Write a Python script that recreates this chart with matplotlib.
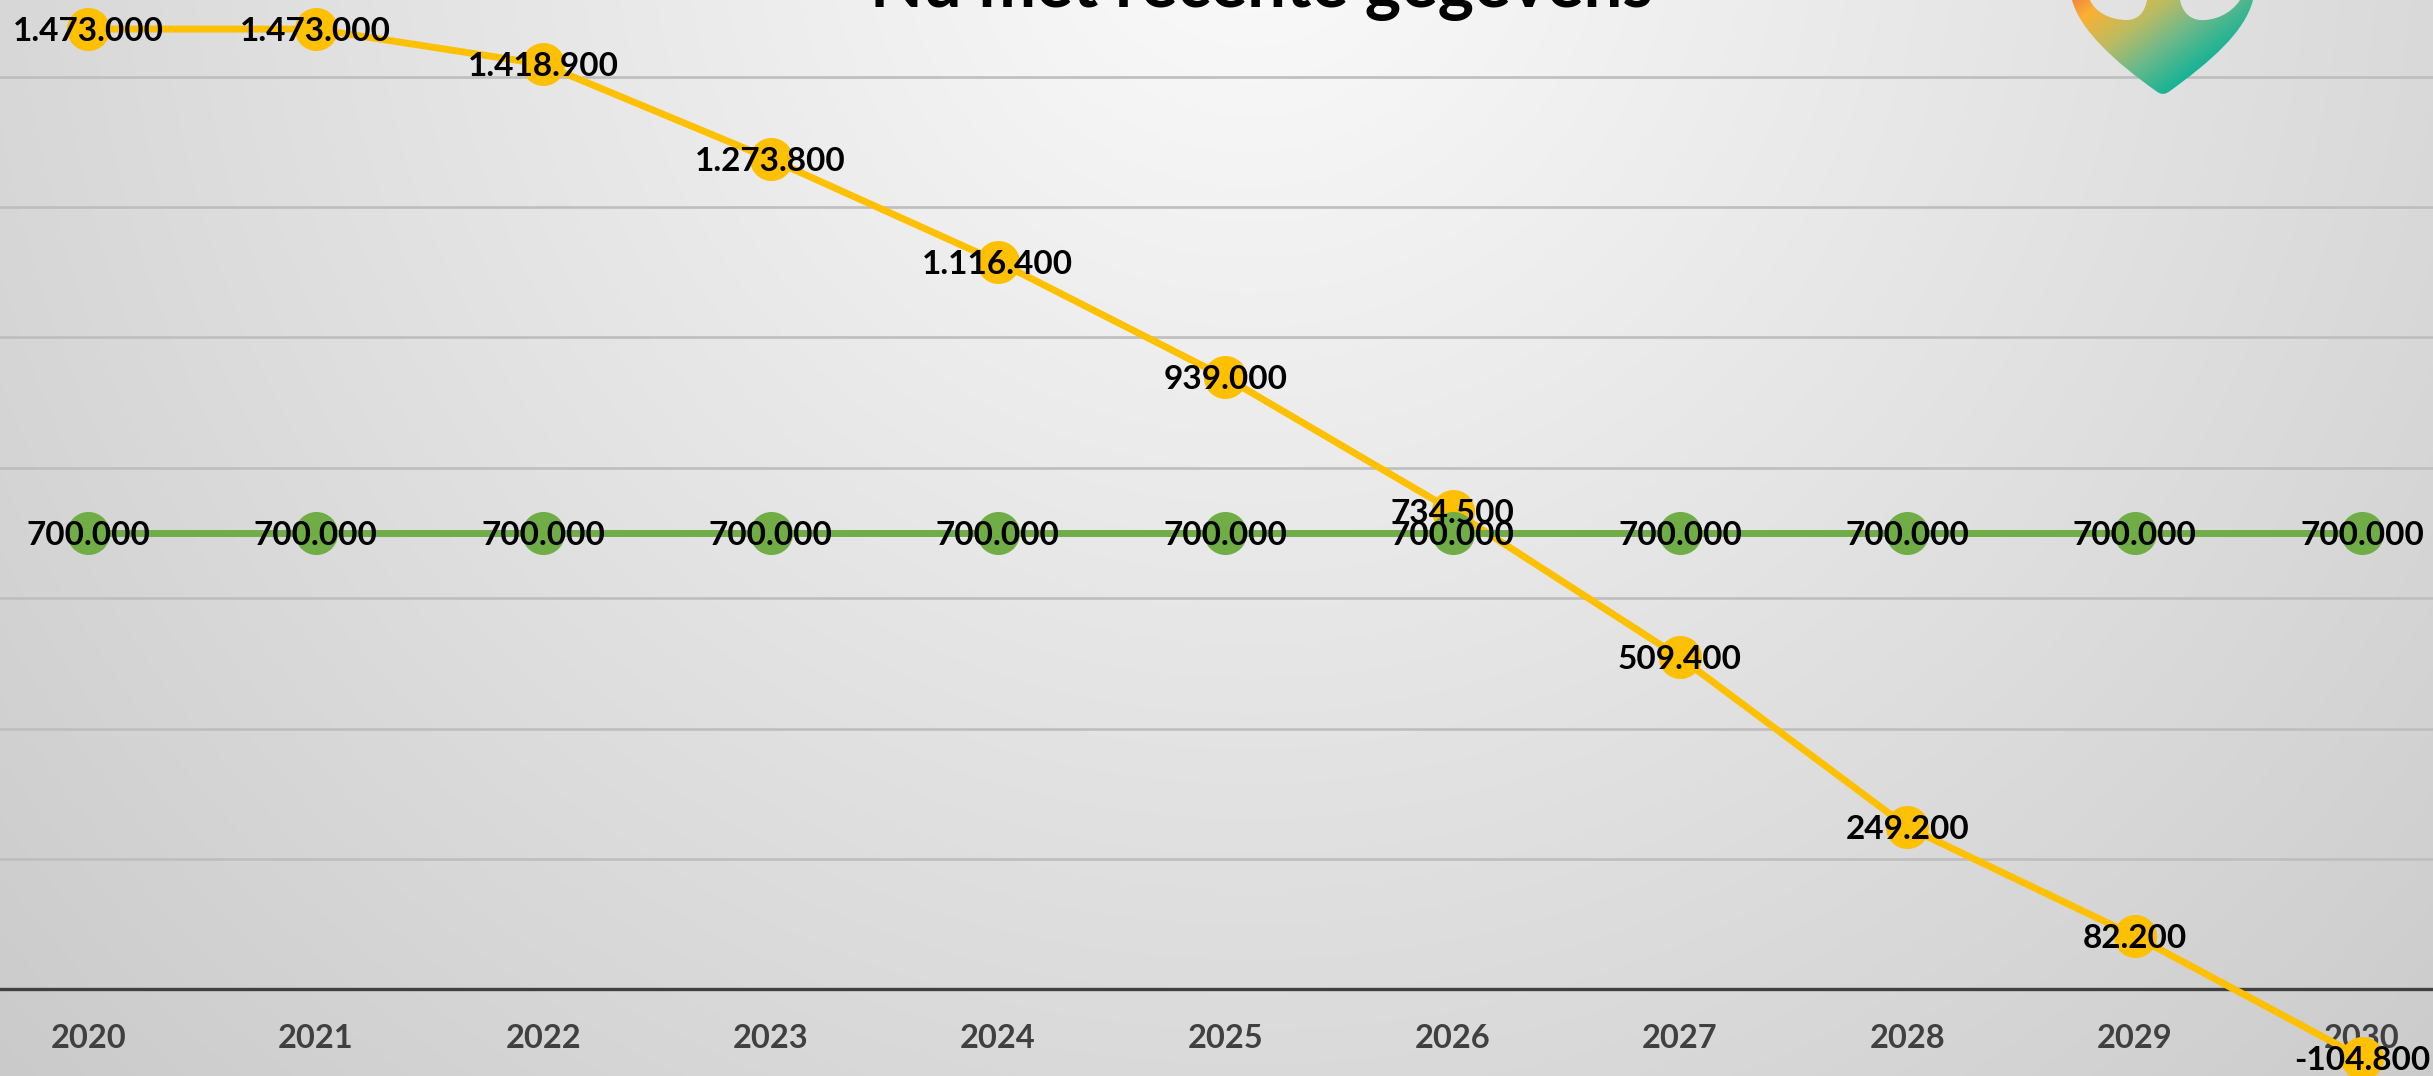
import numpy as np
import matplotlib
matplotlib.use("Agg")
import matplotlib.pyplot as plt
from matplotlib.path import Path
from matplotlib.patches import PathPatch
from matplotlib.colors import LinearSegmentedColormap

plt.rcParams['font.family'] = ['Lato', 'DejaVu Sans']

# gegevens
jaren = ['2020', '2021', '2022', '2023', '2024', '2025', '2026', '2027', '2028', '2029', '2030']
prognose = [1473000, 1473000, 1418900, 1273800, 1116400, 939000, 734500, 509400, 249200, 82200, -104800]
doel = [700000] * 11

W, H = 2433, 1076
fig = plt.figure(figsize=(W / 100, H / 100), dpi=100)

# achtergrond: radiaal verloop van wit (boven midden) naar lichtgrijs
bg = fig.add_axes([0, 0, 1, 1])
yy, xx = np.mgrid[0:H, 0:W]
r = np.hypot(xx - 1250, yy + 100) / 1700
grijs = np.clip(0.985 - 0.19 * r, 0, 1)
bg.imshow(np.dstack([grijs] * 3), aspect='auto', extent=[0, W, H, 0])
bg.set_axis_off()

ax = fig.add_axes([0, 0, 1, 1])
ax.patch.set_alpha(0)
x = np.arange(len(jaren))

ax.set_xlim(-0.389, 10.312)
ax.set_ylim(-132700, 1517600)

ax.set_yticks(np.arange(0, 1400001, 200000))
ax.yaxis.grid(True, color='#BEBEBE', linewidth=1.9)
ax.set_axisbelow(True)
ax.tick_params(axis='y', left=False, labelleft=False)

for s in ['left', 'right', 'top']:
    ax.spines[s].set_visible(False)
ax.spines['bottom'].set_position(('data', 0))
ax.spines['bottom'].set_color('#404040')
ax.spines['bottom'].set_linewidth(2.4)
ax.spines['bottom'].set_zorder(2.5)

ax.set_xticks(x, jaren)
ax.tick_params(axis='x', length=0, pad=25, labelsize=23.5, labelcolor='#404040')
for lbl in ax.get_xticklabels():
    lbl.set_fontweight('bold')

ax.plot(x, prognose, color='#FFC000', linewidth=5, marker='o', markersize=31,
        markeredgewidth=0, zorder=3, clip_on=False)
ax.plot(x, doel, color='#70AD47', linewidth=5, marker='o', markersize=31,
        markeredgewidth=0, zorder=4, clip_on=False)


def fmt(v):
    return f'{v:,.0f}'.replace(',', '.')


for xi, v in zip(x, prognose):
    ax.text(xi, v, fmt(v), ha='center', va='center_baseline', fontsize=24,
            fontweight='bold', color='black', zorder=6)
for xi, v in zip(x, doel):
    ax.text(xi, v, fmt(v), ha='center', va='center_baseline', fontsize=24,
            fontweight='bold', color='black', zorder=6)

# titel (valt deels buiten het beeld)
fig.text(1261 / W, 1 - 7 / H, 'Nu met recente gegevens', ha='center', va='baseline',
         fontsize=49.5, fontweight='bold', color='black')

# logo rechtsboven
x0, x1, y0, y1 = 2060, 2266, 0, 100
lax = fig.add_axes([x0 / W, 1 - y1 / H, (x1 - x0) / W, (y1 - y0) / H])
lax.set_xlim(x0, x1)
lax.set_ylim(y1, y0)
lax.set_axis_off()

M, L, C4, C3, CL = Path.MOVETO, Path.LINETO, Path.CURVE4, Path.CURVE3, Path.CLOSEPOLY
verts = [
    (2068, -30), (2072, 0),
    (2080, 30), (2115, 62), (2156, 91),
    (2163, 97), (2170, 91),
    (2210, 62), (2245, 32), (2253, 0),
    (2255, -30), (2240, -30), (2240, 0),
    (2231, 14), (2214, 21), (2200, 20),
    (2188, 19), (2182, 10), (2180, 0),
    (2180, -30), (2147, -30), (2147, 0),
    (2145, 12), (2138, 20), (2127, 20),
    (2110, 20), (2095, 12), (2090, 0),
    (2090, -30), (2068, -30),
]
codes = [M, L, C4, C4, C4, C3, C3, C4, C4, C4, L, L, L, C4, C4, C4, C4, C4, C4,
         L, L, L, C4, C4, C4, C4, C4, C4, L, CL]
vorm = PathPatch(Path(verts, codes), facecolor='none', edgecolor='none')
lax.add_patch(vorm)

ly, lx = np.mgrid[y0:y1, x0:x1]
t = np.clip(((lx - 2072) * 0.6 + ly * 0.8) / 130, 0, 1)
cmap = LinearSegmentedColormap.from_list(
    'logo', [(0, '#F3883B'), (0.15, '#FAB133'), (0.45, '#B9BC64'), (0.7, '#6DB98A'), (1, '#18B396')])
im = lax.imshow(t, cmap=cmap, vmin=0, vmax=1, extent=[x0, x1, y1, y0], aspect='auto')
im.set_clip_path(vorm)

fig.savefig('out.png', dpi=100)
